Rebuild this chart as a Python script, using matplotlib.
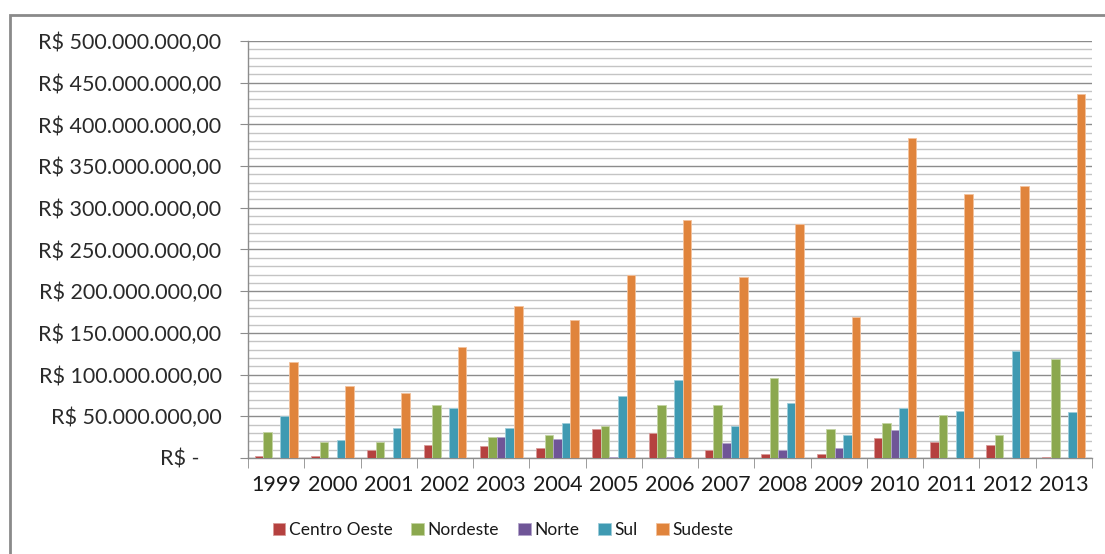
import numpy as np
import matplotlib
matplotlib.use('Agg')
import matplotlib.pyplot as plt
from matplotlib.patches import Rectangle

anos = ['1999', '2000', '2001', '2002', '2003', '2004', '2005', '2006',
        '2007', '2008', '2009', '2010', '2011', '2012', '2013']

# valores em milhoes de R$
centro_oeste = [2, 2, 9, 16, 14, 12, 35, 29.5, 9, 5, 5, 24, 19, 15.5, 1.5]
nordeste = [31, 19, 19, 64, 25.5, 27.5, 38, 63.5, 63.5, 96, 35, 41.5, 51.5, 27.5, 118.7]
norte = [0, 0, 0, 0, 25.5, 23, 1.5, 1.5, 17.5, 9, 12, 34, 0, 0, 0]
sul = [50, 21, 36, 60, 36, 41.5, 74, 93, 38, 65.5, 27.5, 60, 56.7, 128.7, 55]
sudeste = [115, 86, 78, 133, 182, 165.5, 220, 285.7, 217, 280.5, 168.5, 383.7, 316.5, 326.5, 436.8]

series = ['Centro Oeste', 'Nordeste', 'Norte', 'Sul', 'Sudeste']
cores = ['#B5413F', '#8BA84E', '#6F5597', '#3F9AB2', '#E0843C']
bordas = ['#D89A98', '#C3D4A3', '#B3A5CA', '#9DCCDA', '#F3C29C']

rotulos_y = ['R$ -    ', 'R$ 50.000.000,00', 'R$ 100.000.000,00', 'R$ 150.000.000,00',
             'R$ 200.000.000,00', 'R$ 250.000.000,00', 'R$ 300.000.000,00',
             'R$ 350.000.000,00', 'R$ 400.000.000,00', 'R$ 450.000.000,00',
             'R$ 500.000.000,00']

plt.rcParams['font.family'] = ['Lato', 'DejaVu Sans']

fig = plt.figure(figsize=(11.05, 5.54), dpi=100)
ax = fig.add_axes([248/1105, 1-458/554, (1092-248)/1105, (458-41)/554])

x = np.arange(len(anos))
w = 0.152
dados = [centro_oeste, nordeste, norte, sul, sudeste]
for i, (nome, vals) in enumerate(zip(series, dados)):
    v = np.array(vals) * 1e6
    ax.bar(x + (i - 2) * w, v, w, color=cores[i], edgecolor=bordas[i],
           linewidth=0.6, label=nome, zorder=3)

ax.set_xlim(-0.5, len(anos) - 0.5)
ax.set_ylim(0, 500e6)

# grade
ax.set_yticks(np.arange(0, 501e6, 50e6))
ax.set_yticks(np.arange(0, 501e6, 10e6), minor=True)
ax.yaxis.grid(True, which='major', color='#8c8c8c', linewidth=1.0, zorder=1)
ax.yaxis.grid(True, which='minor', color='#c4c4c4', linewidth=1.0, zorder=1)
ax.set_yticklabels(rotulos_y, fontsize=15.5, color='#2a2a2a')
ax.tick_params(axis='y', which='major', direction='out', length=6, color='#8c8c8c', pad=13)
ax.tick_params(axis='y', which='minor', length=0)

ax.set_xticks(x)
ax.set_xticklabels(anos, fontsize=15.5, color='#1a1a1a')
ax.set_xticks(np.arange(-0.5, len(anos), 1), minor=True)
ax.tick_params(axis='x', which='major', length=0, pad=12)
ax.tick_params(axis='x', which='minor', direction='out', length=7, color='#8c8c8c')

for s in ['top', 'right']:
    ax.spines[s].set_visible(False)
for s in ['left', 'bottom']:
    ax.spines[s].set_color('#8c8c8c')
    ax.spines[s].set_linewidth(1.0)

leg = fig.legend(loc='center', bbox_to_anchor=(503/1105, 1-530/554), ncol=5,
                 frameon=False, fontsize=12.5, handlelength=0.72, handleheight=0.72,
                 handletextpad=0.2, columnspacing=1.1)
for t in leg.get_texts():
    t.set_color('#1a1a1a')

# moldura externa
fig.patches.append(Rectangle((10/1105, -0.05), 1.2, 1-15/554+0.05,
                             transform=fig.transFigure, fill=False,
                             edgecolor='#8a8a8a', linewidth=2.0))

fig.savefig('out.png', dpi=100)
